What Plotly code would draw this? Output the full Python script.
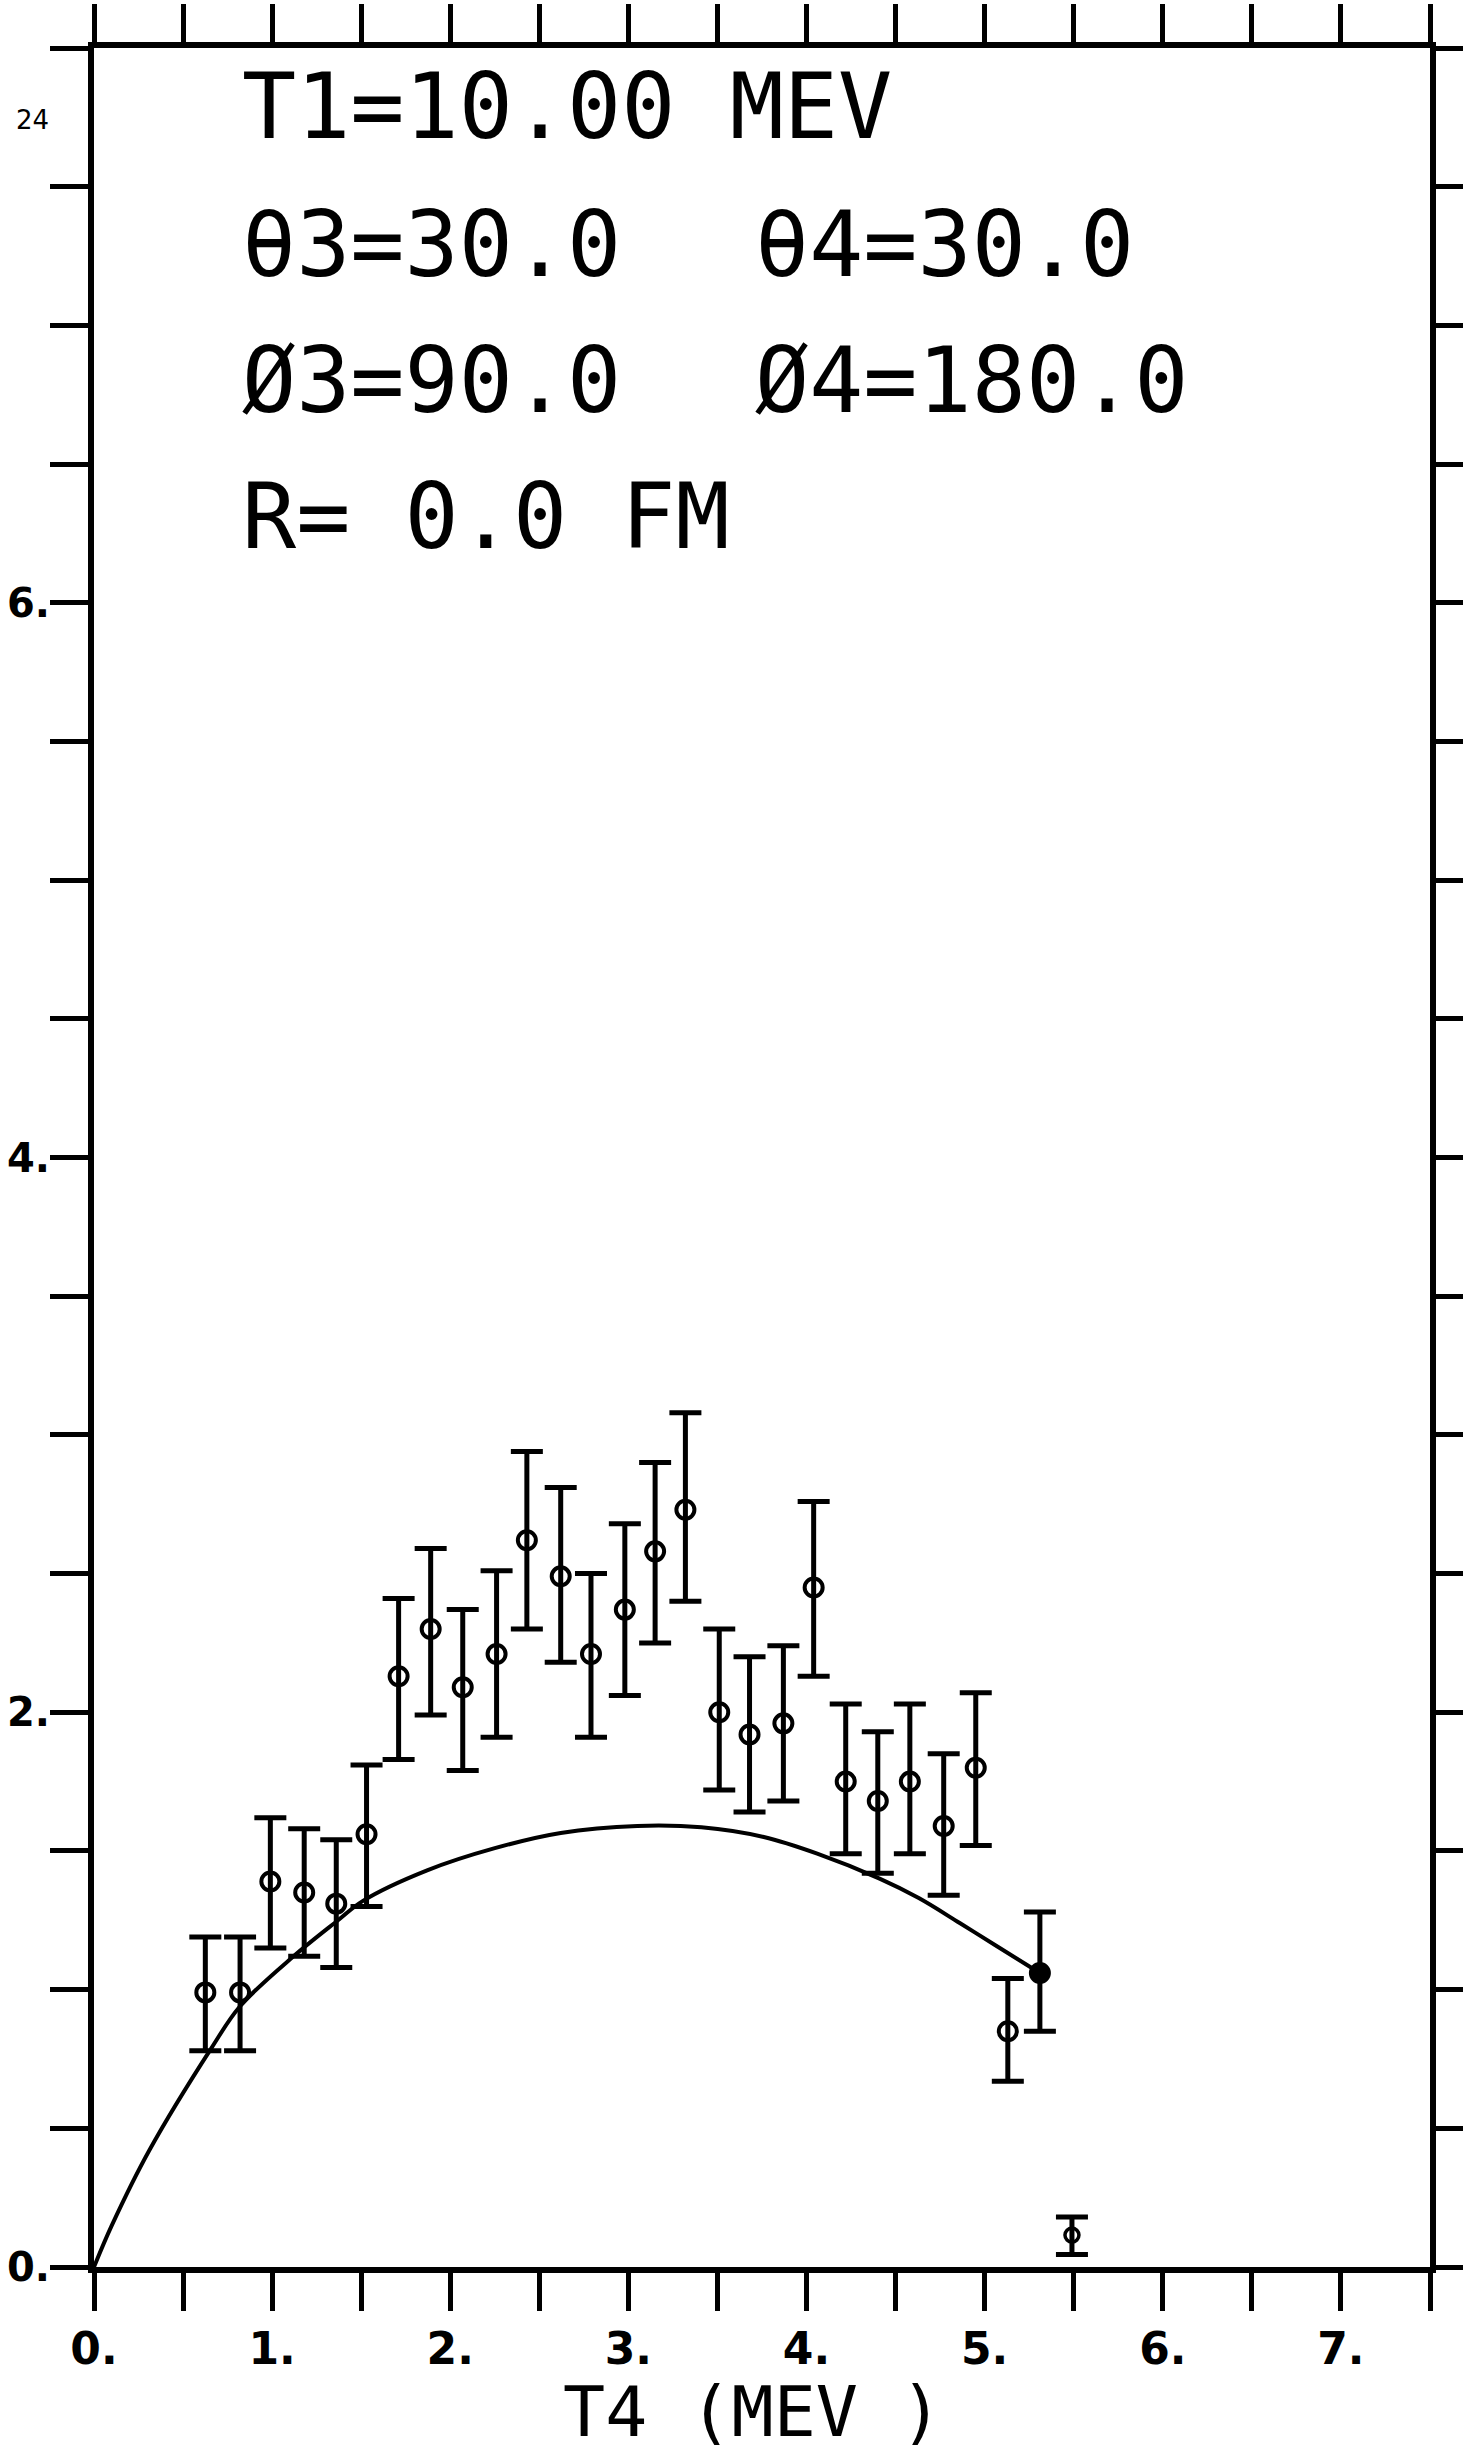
import plotly.graph_objects as go

# ---- data ----
t4 = [0.625, 0.82, 0.99, 1.18, 1.36, 1.53, 1.71, 1.89, 2.07, 2.26,
      2.43, 2.62, 2.79, 2.98, 3.15, 3.32, 3.51, 3.68, 3.87, 4.04,
      4.22, 4.40, 4.58, 4.77, 4.95, 5.13, 5.31]
cross = [0.99, 0.99, 1.39, 1.35, 1.31, 1.56, 2.13, 2.30, 2.09, 2.21,
         2.62, 2.49, 2.21, 2.37, 2.58, 2.73, 2.00, 1.92, 1.96, 2.45,
         1.75, 1.68, 1.75, 1.59, 1.80, 0.85, 1.06]
err_hi = [1.19, 1.19, 1.62, 1.58, 1.54, 1.81, 2.41, 2.59, 2.37, 2.51,
          2.94, 2.81, 2.50, 2.68, 2.90, 3.08, 2.30, 2.20, 2.24, 2.76,
          2.03, 1.93, 2.03, 1.85, 2.07, 1.04, 1.28]
err_lo = [0.78, 0.78, 1.15, 1.12, 1.08, 1.30, 1.83, 1.99, 1.79, 1.91,
          2.30, 2.18, 1.91, 2.06, 2.25, 2.40, 1.72, 1.64, 1.68, 2.13,
          1.49, 1.42, 1.49, 1.34, 1.52, 0.67, 0.85]

ref_x = [5.49]
ref_y = [0.115]
ref_hi = [0.18]
ref_lo = [0.045]

curve_x = [0.0, 0.10, 0.31, 0.66, 0.82, 1.12, 1.37, 1.51, 1.87, 2.25,
           2.62, 3.05, 3.41, 3.76, 4.06, 4.41, 4.63, 4.86, 5.06, 5.31]
curve_y = [0.0, 0.15, 0.42, 0.79, 0.94, 1.12, 1.25, 1.32, 1.43, 1.51,
           1.565, 1.59, 1.585, 1.55, 1.49, 1.40, 1.33, 1.24, 1.16, 1.06]

x_tickvals = [i * 0.5 for i in range(16)]
x_ticktext = ["0.", "", "1.", "", "2.", "", "3.", "", "4.", "", "5.", "", "6.", "", "7.", ""]
y_tickvals = [i * 0.5 for i in range(17)]
y_ticktext = ["0.", "", "", "", "2.", "", "", "", "4.", "", "", "", "6.", "", "", "", ""]

info_lines = [
    ("T1=10.00 MEV", 0.82, 7.79),
    ("θ3=30.0", 0.82, 7.29),
    ("θ4=30.0", 3.70, 7.29),
    ("Ø3=90.0", 0.82, 6.80),
    ("Ø4=180.0", 3.70, 6.80),
    ("R= 0.0 FM", 0.82, 6.31),
]

MONO = "DejaVu Sans Mono, Liberation Mono, monospace"
LABEL = "DejaVu Sans, Liberation Sans, sans-serif"

fig = go.Figure()

fig.add_trace(go.Scatter(
    x=curve_x, y=curve_y, mode="lines",
    line=dict(color="black", width=4, shape="spline", smoothing=1.0),
    showlegend=False, hoverinfo="skip"))

fig.add_trace(go.Scatter(
    x=t4, y=cross, mode="markers",
    marker=dict(symbol=["circle-open"] * (len(t4) - 1) + ["circle"],
                size=18, color="black", line=dict(color="black", width=4)),
    error_y=dict(type="data", symmetric=False,
                 array=[h - v for h, v in zip(err_hi, cross)],
                 arrayminus=[v - l for v, l in zip(cross, err_lo)],
                 color="black", thickness=5, width=16),
    showlegend=False))

fig.add_trace(go.Scatter(
    x=ref_x, y=ref_y, mode="markers",
    marker=dict(symbol="circle-open", size=14, color="black", line=dict(color="black", width=3.5)),
    error_y=dict(type="data", symmetric=False,
                 array=[h - v for h, v in zip(ref_hi, ref_y)],
                 arrayminus=[v - l for v, l in zip(ref_y, ref_lo)],
                 color="black", thickness=5, width=16),
    showlegend=False))

annotations = []
for txt, xv, yv in info_lines:
    annotations.append(dict(text=txt, x=xv, y=yv, xref="x", yref="y",
                            xanchor="left", yanchor="middle", showarrow=False,
                            font=dict(family=MONO, size=90, color="black")))
annotations.append(dict(text="T4 (MEV )", x=0.493, y=-0.0655, xref="paper", yref="paper",
                        xanchor="center", yanchor="middle", showarrow=False,
                        font=dict(family=MONO, size=70, color="black")))
annotations.append(dict(text="24", x=-0.046, y=7.74, xref="paper", yref="y",
                        xanchor="center", yanchor="middle", showarrow=False,
                        font=dict(family=LABEL, size=26, color="black")))

axis_common = dict(showgrid=False, zeroline=False, showline=True, linecolor="black",
                   linewidth=6, mirror="ticks", ticks="outside", ticklen=38,
                   tickwidth=4.5, tickcolor="black", automargin=False)

fig.update_layout(
    width=1463, height=2459,
    margin=dict(l=94, r=33, t=48, b=192),
    paper_bgcolor="white", plot_bgcolor="white",
    xaxis=dict(range=[0, 7.5], tickmode="array", tickvals=x_tickvals, ticktext=x_ticktext,
               tickfont=dict(family=LABEL, size=44, color="black", weight="bold"),
               **axis_common),
    yaxis=dict(range=[0, 8], tickmode="array", tickvals=y_tickvals, ticktext=y_ticktext,
               tickfont=dict(family=LABEL, size=40, color="black", weight="bold"),
               ticklabelstandoff=-8,
               **axis_common),
    annotations=annotations,
)

fig.write_html("out.html")
